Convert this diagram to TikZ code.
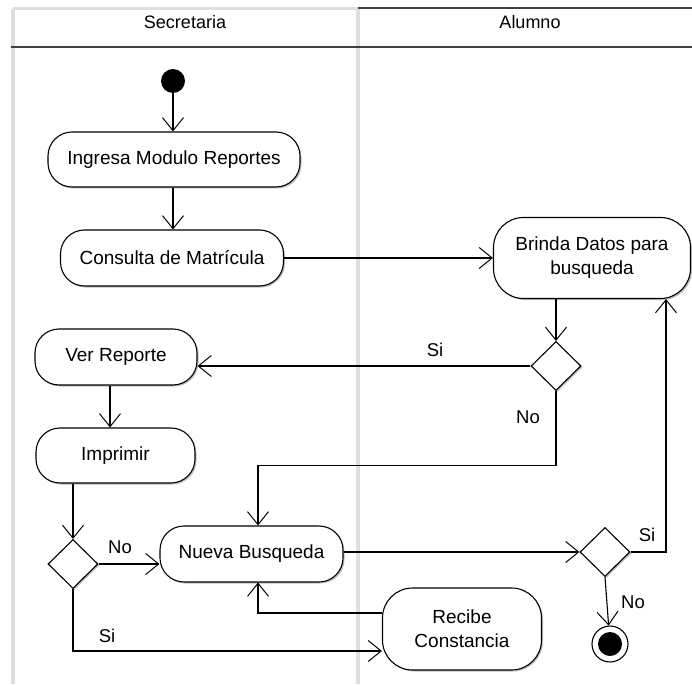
\documentclass[tikz,border=0pt]{standalone}
\usepackage{fontspec}
\setmainfont{Liberation Sans}
\usetikzlibrary{arrows.meta,shapes.geometric,shadows,calc}

\begin{document}
\begin{tikzpicture}[x=1pt,y=-1pt,
  lane/.style={draw=black!13,line width=4pt},
  headline/.style={draw=black!75,line width=1.6pt},
  act/.style={draw,line width=1.1pt,fill=white,rounded corners=24pt,
    minimum height=55pt,inner sep=0pt,align=center,
    font=\fontsize{19}{24}\selectfont,
    drop shadow={shadow xshift=1.5pt,shadow yshift=-1.5pt,opacity=0.25,fill=black}},
  bigact/.style={act,rounded corners=30pt},
  decision/.style={diamond,draw,line width=1.1pt,fill=white,inner sep=0pt,
    minimum width=50pt,minimum height=49pt,
    drop shadow={shadow xshift=1.5pt,shadow yshift=-1.5pt,opacity=0.25,fill=black}},
  lanetitle/.style={font=\fontsize{18}{22}\selectfont},
  guard/.style={font=\fontsize{18.5}{22}\selectfont,inner sep=0pt},
  flow/.style={line width=1.1pt,-{Straight Barb[length=13pt,width=21pt,line width=1pt]}},
]
\useasboundingbox (0,0) rectangle (692,684);

% swimlane frame
\draw[lane] (13,9) -- (13,684);
\draw[lane] (358,9) -- (358,684);
\draw[draw=black!13,line width=3pt] (13,9) -- (358,9);
\draw[headline] (358,8) -- (692,8);
\draw[headline] (11,47) -- (692,47);
\node[lanetitle] (tsec) at (185,22) {Secretaria};
\node[lanetitle] (talu) at (530,22) {Alumno};

% initial and final states
\node[circle,fill=black,minimum size=24pt,inner sep=0pt] (ini) at (173,81) {};
\node[circle,draw,line width=1.1pt,fill=white,minimum size=36pt,inner sep=0pt] (fin) at (610,644) {};
\node[circle,fill=black,minimum size=24pt,inner sep=0pt] (finc) at (fin) {};

% activities
\node[act,minimum width=252pt] (ingresa) at (174,159.5) {Ingresa Modulo Reportes};
\node[act,minimum width=223pt,minimum height=56pt] (consulta) at (172,258) {Consulta de Matrícula};
\node[bigact,minimum width=197pt,minimum height=81pt] (brinda) at (592,258) {Brinda Datos para\\busqueda};
\node[act,minimum width=162pt,minimum height=56pt] (ver) at (116,357) {Ver Reporte};
\node[act,minimum width=159pt] (imprimir) at (115.5,455.5) {Imprimir};
\node[act,minimum width=183pt,minimum height=56pt] (nueva) at (251.5,554) {Nueva Busqueda};
\node[bigact,minimum width=159pt,minimum height=82pt] (recibe) at (462,629) {Recibe\\Constancia};

% decisions
\node[decision] (d1) at (556,366) {};
\node[decision] (d2) at (73,564) {};
\node[decision] (d3) at (605,552) {};

% control flows
\draw[flow] (ini) -- (ingresa.north -| ini);
\draw[flow] (ingresa.south -| ini) -- (consulta.north -| ini);
\draw[flow] (consulta.east) -- (consulta.east -| brinda.west);
\draw[flow] (brinda.south -| d1) -- (d1.north);
\draw[flow] (d1.west) -- (d1.west -| ver.east);
\draw[flow] (d1.south) -- ++(0,74) -| ([xshift=6.5pt]nueva.north);
\draw[flow] ([xshift=-6pt]ver.south) -- ([xshift=-6pt]ver.south |- imprimir.north);
\draw[flow] (imprimir.south -| d2) -- (d2.north);
\draw[flow] (d2.east) -- (d2.east -| nueva.west);
\draw[flow] (d2.south) |- ([yshift=-22pt]recibe.west);
\draw[flow] ([yshift=16pt]recibe.west) -| ([xshift=6.5pt]nueva.south);
\draw[flow] (nueva.east |- d3.west) -- (d3.west);
\draw[flow] (d3.east) -| ([xshift=74pt]brinda.south);
\draw[flow] (d3.south) -- (fin);

% guards
\node[guard] (g1) at (435,350) {Si};
\node[guard] (g2) at (528,417) {No};
\node[guard] (g3) at (120,547) {No};
\node[guard] (g4) at (107,636) {Si};
\node[guard] (g5) at (647,535) {Si};
\node[guard] (g6) at (633,602) {No};
\end{tikzpicture}
\end{document}
